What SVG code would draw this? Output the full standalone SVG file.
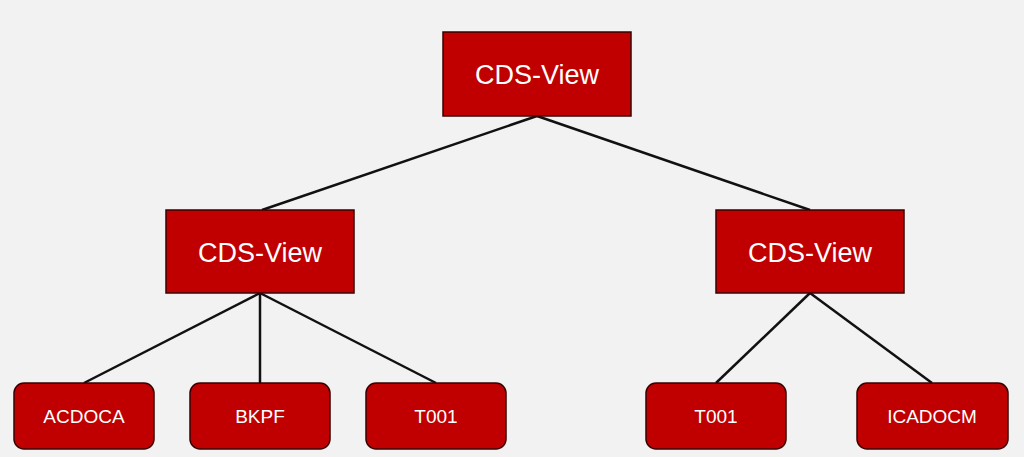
<svg xmlns="http://www.w3.org/2000/svg" width="1024" height="457" viewBox="0 0 1024 457">
<style>
.b{fill:#c00000;stroke:#3a0000;stroke-width:1.5}
.t{fill:#fff;font-family:"Liberation Sans",Arial,sans-serif;text-anchor:middle}
.big{font-size:27px}.sm{font-size:19px}
.c line{stroke:#111;stroke-width:2.5}
</style>
<rect width="1024" height="457" fill="#f2f2f2"/>
<g class="c">
<line x1="537" y1="116" x2="262" y2="210"/>
<line x1="537" y1="116" x2="810" y2="210"/>
<line x1="260" y1="293" x2="84" y2="383"/>
<line x1="260" y1="293" x2="260" y2="383"/>
<line x1="260" y1="293" x2="436" y2="383"/>
<line x1="810" y1="293" x2="716" y2="383"/>
<line x1="810" y1="293" x2="932" y2="383"/>
</g>
<g id="top"><rect class="b" x="443" y="32" width="188" height="84"/><text class="t big" x="537" y="84">CDS-View</text></g>
<g id="midL"><rect class="b" x="166" y="210" width="188" height="83"/><text class="t big" x="260" y="262">CDS-View</text></g>
<g id="midR"><rect class="b" x="716" y="210" width="188" height="83"/><text class="t big" x="810" y="262">CDS-View</text></g>
<g id="acdoca"><rect class="b" x="14" y="383" width="140" height="66" rx="10"/><text class="t sm" x="84" y="423">ACDOCA</text></g>
<g id="bkpf"><rect class="b" x="190" y="383" width="140" height="66" rx="10"/><text class="t sm" x="260" y="423">BKPF</text></g>
<g id="t001a"><rect class="b" x="366" y="383" width="140" height="66" rx="10"/><text class="t sm" x="436" y="423">T001</text></g>
<g id="t001b"><rect class="b" x="646" y="383" width="140" height="66" rx="10"/><text class="t sm" x="716" y="423">T001</text></g>
<g id="icadocm"><rect class="b" x="857" y="383" width="151" height="66" rx="10"/><text class="t sm" x="932" y="423">ICADOCM</text></g>
</svg>
